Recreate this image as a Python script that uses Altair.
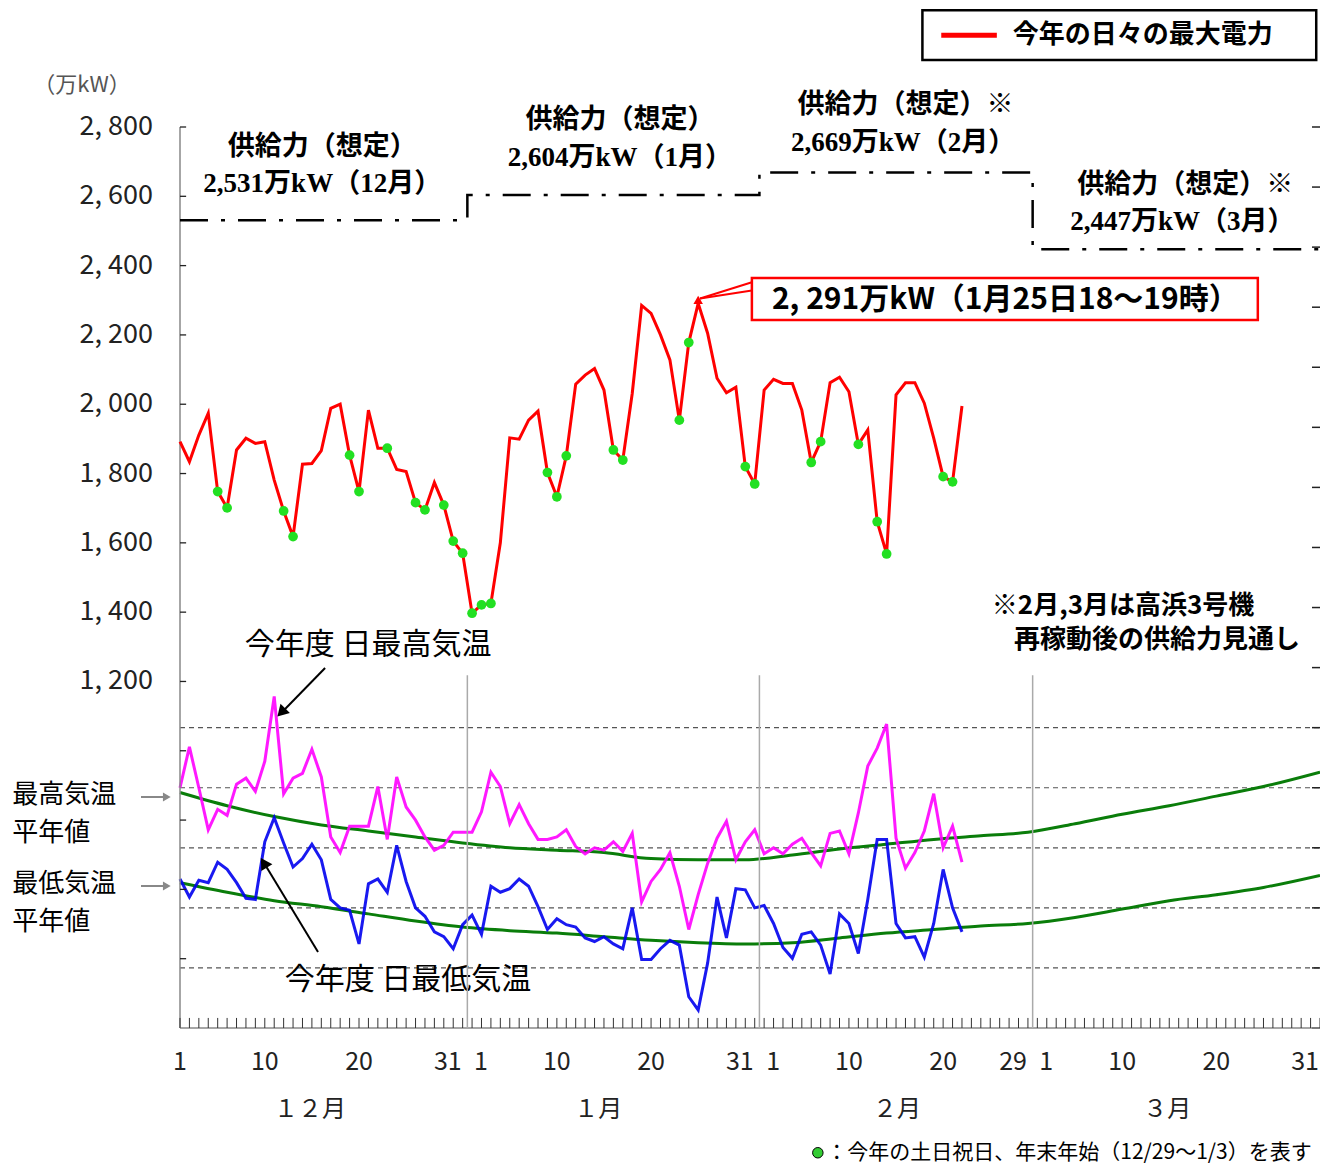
import altair as alt
import pandas as pd

# ---------------- data ----------------
# day index: 0 = Dec 1, 31 = Jan 1, 62 = Feb 1, 91 = Mar 1, 121 = Mar 31
power = [1892, 1834, 1911, 1974, 1748, 1701, 1868, 1902, 1887, 1892,
         1781, 1692, 1618, 1827, 1829, 1866, 1988, 2000, 1853, 1748,
         1983, 1873, 1873, 1812, 1806, 1716, 1695, 1774, 1709, 1605,
         1570, 1397, 1421, 1425, 1600, 1903, 1899, 1954, 1980, 1803,
         1733, 1851, 2058, 2084, 2103, 2041, 1868, 1839, 2031, 2285,
         2262, 2200, 2128, 1954, 2178, 2291, 2205, 2075, 2033, 2049,
         1820, 1770, 2041, 2072, 2060, 2060, 1983, 1832, 1892, 2062,
         2078, 2036, 1884, 1926, 1661, 1568, 2027, 2062, 2062, 2003,
         1902, 1791, 1776, 1995]
holidays = [4, 5, 11, 12, 18, 19, 22, 25, 26, 28, 29, 30, 31, 32, 33, 39, 40, 41,
            46, 47, 53, 54, 60, 61, 67, 68, 72, 74, 75, 81, 82]
tmax = [15.0, 18.4, 15.0, 11.5, 13.2, 12.7, 15.3, 15.8, 14.7, 17.2,
        22.6, 14.5, 15.8, 16.2, 18.2, 15.9, 10.9, 9.6, 11.8, 11.8,
        11.8, 15.1, 10.7, 15.9, 13.4, 12.3, 10.9, 9.8, 10.2, 11.3,
        11.3, 11.3, 13.0, 16.3, 15.1, 12.0, 13.6, 12.0, 10.7, 10.7,
        10.9, 11.5, 10.1, 9.5, 10.0, 9.8, 10.5, 9.7, 11.2, 5.5,
        7.2, 8.2, 9.6, 6.8, 3.2, 6.1, 8.7, 10.8, 12.2, 9.0,
        10.5, 11.5, 9.5, 10.0, 9.5, 10.3, 10.8, 9.6, 8.5, 11.2,
        11.4, 9.5, 12.9, 16.8, 18.3, 20.3, 10.8, 8.3, 9.6, 11.4,
        14.5, 10.0, 11.8, 8.8]
tmin = [7.4, 5.9, 7.3, 7.1, 8.8, 8.2, 7.1, 5.8, 5.7, 10.5,
        12.5, 10.4, 8.4, 9.1, 10.3, 9.0, 5.7, 5.0, 4.8, 2.0,
        7.0, 7.4, 6.3, 10.2, 7.2, 5.0, 4.3, 3.0, 2.6, 1.6,
        3.6, 4.4, 2.8, 6.8, 6.3, 6.6, 7.4, 6.8, 5.1, 3.2,
        4.1, 3.6, 3.4, 2.5, 2.2, 2.6, 2.0, 1.6, 5.0, 0.7,
        0.7, 1.6, 2.3, 1.9, -2.4, -3.5, 0.4, 5.9, 2.5, 6.6,
        6.5, 5.0, 5.2, 3.7, 1.7, 0.8, 2.8, 3.0, 1.9, -0.5,
        4.5, 3.7, 1.2, 5.7, 10.7, 10.7, 3.7, 2.5, 2.6, 0.9,
        3.7, 8.2, 5.0, 3.0]
normal_days = [0, 5, 10, 15, 20, 25, 30, 35, 40, 45, 50, 55, 60, 65, 70, 75, 80,
               85, 90, 95, 100, 105, 110, 115, 121]
normal_max = [14.6, 13.5, 12.6, 11.9, 11.4, 10.9, 10.4, 10.0, 9.8, 9.6, 9.1, 9.0, 9.0,
              9.4, 9.9, 10.3, 10.7, 11.0, 11.3, 12.0, 12.8, 13.5, 14.3, 15.1, 16.3]
normal_min = [7.1, 6.3, 5.6, 5.1, 4.5, 3.9, 3.4, 3.1, 2.9, 2.6, 2.3, 2.1, 2.0,
              2.1, 2.5, 2.9, 3.2, 3.5, 3.7, 4.2, 4.9, 5.6, 6.1, 6.7, 7.7]
month_starts = [0, 31, 62, 91]
month_lengths = [31, 31, 29, 31]
month_names = ["１２月", "１月", "２月", "３月"]
supply_values = [2531, 2604, 2669, 2447]
supply_title = ["供給力（想定）", "供給力（想定）", "供給力（想定）※", "供給力（想定）※"]
supply_value_text = ["2,531万kW（12月）", "2,604万kW（1月）", "2,669万kW（2月）", "2,447万kW（3月）"]
y_tick_values = [2800, 2600, 2400, 2200, 2000, 1800, 1600, 1400, 1200, 1000, 800, 600, 400]
y_label_values = [2800, 2600, 2400, 2200, 2000, 1800, 1600, 1400, 1200]
temp_grid = [0, 5, 10, 15, 20]
temp_ticks = list(range(-5, 75, 5))
x_label_day = [0, 9, 19, 30, 31, 40, 50, 61, 62, 71, 81, 90, 91, 100, 110, 121]
x_label_text = ["1", "10", "20", "31", "1", "10", "20", "31", "1", "10", "20", "29",
                "1", "10", "20", "31"]
peak_day, peak_value = 55, 2291
peak_text = "2, 291万kW（1月25日18～19時）"

N_DAYS = 122
FONT = "Noto Sans CJK JP"
SERIF = "Liberation Serif, Noto Sans CJK JP"

XS = alt.Scale(domain=[0, 121], nice=False, zero=False)
PS = alt.Scale(domain=[200, 2800], nice=False, zero=False)
TS = alt.Scale(domain=[-5, 70], nice=False, zero=False)


def X(f="x"):
    return alt.X(f, type="quantitative", scale=XS, axis=None)


def YP(f="y"):
    return alt.Y(f, type="quantitative", scale=PS, axis=None)


def YT(f="y"):
    return alt.Y(f, type="quantitative", scale=TS, axis=None)


def text_layer(rows, size, yscale="p", weight="normal", align="center", font=FONT,
               color="black", dx=0):
    df = pd.DataFrame(rows, columns=["x", "y", "t"])
    return alt.Chart(df).mark_text(fontSize=size, fontWeight=weight, align=align, font=font,
                                   color=color, baseline="middle", dx=dx).encode(
        x=X(), y=YP() if yscale == "p" else YT(), text="t:N")


def seg_layer(rows, yscale="p", color="black", width=2.0, dash=None):
    df = pd.DataFrame(rows, columns=["x", "y", "x2", "y2"])
    kw = dict(color=color, strokeWidth=width)
    if dash:
        kw["strokeDash"] = dash
    ych = YP() if yscale == "p" else YT()
    return alt.Chart(df).mark_rule(**kw).encode(x=X(), y=ych, x2="x2:Q", y2="y2:Q")


def head_layer(rows, yscale="p", color="black", size=120, angle=0):
    df = pd.DataFrame(rows, columns=["x", "y"])
    ych = YP() if yscale == "p" else YT()
    return alt.Chart(df).mark_point(shape="triangle-up", filled=True, color=color, size=size,
                                    angle=angle, opacity=1).encode(x=X(), y=ych)


# ---------------- temperature layers ----------------
tdf = pd.DataFrame({"x": list(range(len(tmax))), "tmax": tmax, "tmin": tmin})
ndf = pd.DataFrame({"x": normal_days, "nmax": normal_max, "nmin": normal_min})

grid = seg_layer([(0, t, 121, t) for t in temp_grid], "t", color="#555555", width=1.2,
                 dash=[5, 4])
right_ticks = seg_layer([(120.15, t, 121, t) for t in temp_ticks], "t", color="#222222",
                        width=1.5)
norm_max_line = alt.Chart(ndf).mark_line(color="#0a7d0a", strokeWidth=3,
                                         interpolate="monotone").encode(x=X(), y=YT("nmax"))
norm_min_line = alt.Chart(ndf).mark_line(color="#0a7d0a", strokeWidth=3,
                                         interpolate="monotone").encode(x=X(), y=YT("nmin"))
tmax_line = alt.Chart(tdf).mark_line(color="#ff00ff", strokeWidth=3, opacity=0.9).encode(
    x=X(), y=YT("tmax"))
tmin_line = alt.Chart(tdf).mark_line(color="#0000ee", strokeWidth=3, opacity=0.9).encode(
    x=X(), y=YT("tmin"))

temp_text = text_layer([(19.96, 26.9, "今年度 日最高気温"), (24.2, -1.0, "今年度 日最低気温")],
                       30, "t")
left_text = text_layer([(-17.8, 14.40, "最高気温"), (-17.8, 11.23, "平年値"),
                        (-17.8, 6.99, "最低気温"), (-17.8, 3.82, "平年値")],
                       26, "t", align="left")
arrows_t = seg_layer([(15.4, 24.97, 10.95, 21.39), (14.65, 1.33, 9.05, 8.57)], "t",
                     color="black", width=2)
head1 = head_layer([(10.75, 21.27)], "t", size=170, angle=224)
head2 = head_layer([(8.9, 8.75)], "t", size=170, angle=328)
gray_arrows = seg_layer([(-4.14, 14.23, -1.75, 14.23), (-4.14, 6.82, -1.75, 6.82)], "t",
                        color="#888888", width=2)
gray_heads = head_layer([(-1.4, 14.23), (-1.4, 6.82)], "t", color="#888888", size=80,
                        angle=90)

temp_layer = alt.layer(grid, right_ticks, norm_max_line, norm_min_line, tmax_line, tmin_line,
                       arrows_t, head1, head2, gray_arrows, gray_heads, temp_text, left_text)

# ---------------- power layers ----------------
pdf = pd.DataFrame({"x": list(range(len(power))), "p": power})
hdf = pd.DataFrame({"x": holidays, "p": [power[i] for i in holidays]})

axis_lines = seg_layer([(0, 200, 0, 2800), (0, 200, 121, 200)], color="#888888", width=1.5)
left_ticks = seg_layer([(0, v, 0.65, v) for v in y_tick_values], color="#222222", width=1.3)
day_ticks = seg_layer([(d, 200, d, 229) for d in range(N_DAYS)], color="#333333", width=1)
bounds = [month_starts[i] - 0.5 for i in range(1, 4)]
month_lines = seg_layer([(b, 200, b, 1218) for b in bounds], color="#aaaaaa", width=1.5)

# supply step line
steps = []
for i, v in enumerate(supply_values):
    x0 = max(0, month_starts[i] - 0.5)
    x1 = min(121, month_starts[i] + month_lengths[i] - 0.5)
    steps += [(x0, v), (x1, v)]
sdf = pd.DataFrame({"x": [s[0] for s in steps], "p": [s[1] for s in steps],
                    "o": list(range(len(steps)))})
supply_line = alt.Chart(sdf).mark_line(color="black", strokeWidth=2.5,
                                       strokeDash=[28, 13, 4, 13]).encode(
    x=X(), y=YP("p"), order="o:Q")

red_line = alt.Chart(pdf).mark_line(color="#ff0000", strokeWidth=3).encode(x=X(), y=YP("p"))
dots = alt.Chart(hdf).mark_circle(color="#22e022", size=95, opacity=1).encode(x=X(), y=YP("p"))

supply_t1 = text_layer([(15.1, 2742, supply_title[0]), (46.7, 2820, supply_title[1]),
                        (77.0, 2863, supply_title[2]), (106.7, 2633, supply_title[3])],
                       27, weight="bold")
supply_t2 = text_layer([(15.1, 2636, supply_value_text[0]), (46.7, 2711, supply_value_text[1]),
                        (76.75, 2754, supply_value_text[2]), (106.4, 2526, supply_value_text[3])],
                       27, weight="bold", font=SERIF)

# callout for the peak
cdf = pd.DataFrame({"x": [60.7], "x2": [114.4], "y": [2243], "y2": [2364]})
callout_box = alt.Chart(cdf).mark_rect(fill="white", stroke="#ff0000", strokeWidth=2.5).encode(
    x=X(), x2="x2:Q", y=YP(), y2="y2:Q")
callout_text = text_layer([(87.6, 2302, peak_text)], 30, weight="bold")
pointer = seg_layer([(peak_day + 0.2, peak_value + 14, 60.7, 2352),
                     (peak_day + 0.2, peak_value + 14, 60.7, 2328)], color="#ff0000", width=2)
peak_head = head_layer([(peak_day, peak_value + 10)], color="#ff0000", size=90)

unit_text = text_layer([(-10.4, 2921, "（万kW）")], 22, color="#555555")
note_text = text_layer([(100.1, 1418, "※2月,3月は高浜3号機"),
                        (103.7, 1320, "再稼動後の供給力見通し")], 26, weight="bold")
ylab = text_layer([(-2.87, v, f"{v:,}".replace(",", ", ")) for v in y_label_values], 27,
                  align="right", color="#222222")

# x labels
center_rows, left_rows, right_rows = [], [], []
for d, t in zip(x_label_day, x_label_text):
    if d in month_starts[1:]:
        left_rows.append((d, 102, t))
    elif t in ("29", "31"):
        right_rows.append((d, 102, t))
    else:
        center_rows.append((d, 102, t))
xlab_c = text_layer(center_rows, 25, color="#222222")
xlab_l = text_layer(left_rows, 25, align="left", color="#222222", dx=2)
xlab_r = text_layer(right_rows, 25, align="right", color="#222222", dx=-1)
month_label_x = [13.8, 44.4, 76.1, 104.8]
mlab = text_layer([(mx, -37, m) for mx, m in zip(month_label_x, month_names)], 24,
                  color="#222222")

# legend (top right)
ldf = pd.DataFrame({"x": [78.8], "x2": [120.6], "y": [2993], "y2": [3137]})
legend_box = alt.Chart(ldf).mark_rect(fill="white", stroke="black", strokeWidth=2.5).encode(
    x=X(), x2="x2:Q", y=YP(), y2="y2:Q")
legend_line = seg_layer([(80.8, 3065, 86.7, 3065)], color="#ff0000", width=5)
legend_text = text_layer([(88.4, 3065, "今年の日々の最大電力")], 26, weight="bold", align="left")

# footnote
fdot = alt.Chart(pd.DataFrame({"x": [67.7], "y": [-160]})).mark_point(
    shape="circle", filled=True, fill="#33cc33", stroke="black", strokeWidth=1, size=110,
    opacity=1).encode(x=X(), y=YP())
ftext = text_layer([(68.6, -160, "：今年の土日祝日、年末年始（12/29～1/3）を表す")], 21,
                   align="left")

power_layer = alt.layer(axis_lines, month_lines, day_ticks, left_ticks, supply_line,
                        red_line, dots, pointer, peak_head, callout_box, callout_text,
                        supply_t1, supply_t2, unit_text, note_text, ylab,
                        xlab_c, xlab_l, xlab_r, mlab, legend_box, legend_line, legend_text,
                        fdot, ftext)

chart = alt.layer(temp_layer, power_layer).resolve_scale(y="independent").properties(
    width=1140, height=901,
    padding={"left": 172, "top": 119, "right": 0, "bottom": 136},
    autosize=alt.AutoSizeParams(type="none"),
    background="white",
).configure_view(stroke=None)

chart.save("out.html", embed_options={"renderer": "svg", "actions": False})
